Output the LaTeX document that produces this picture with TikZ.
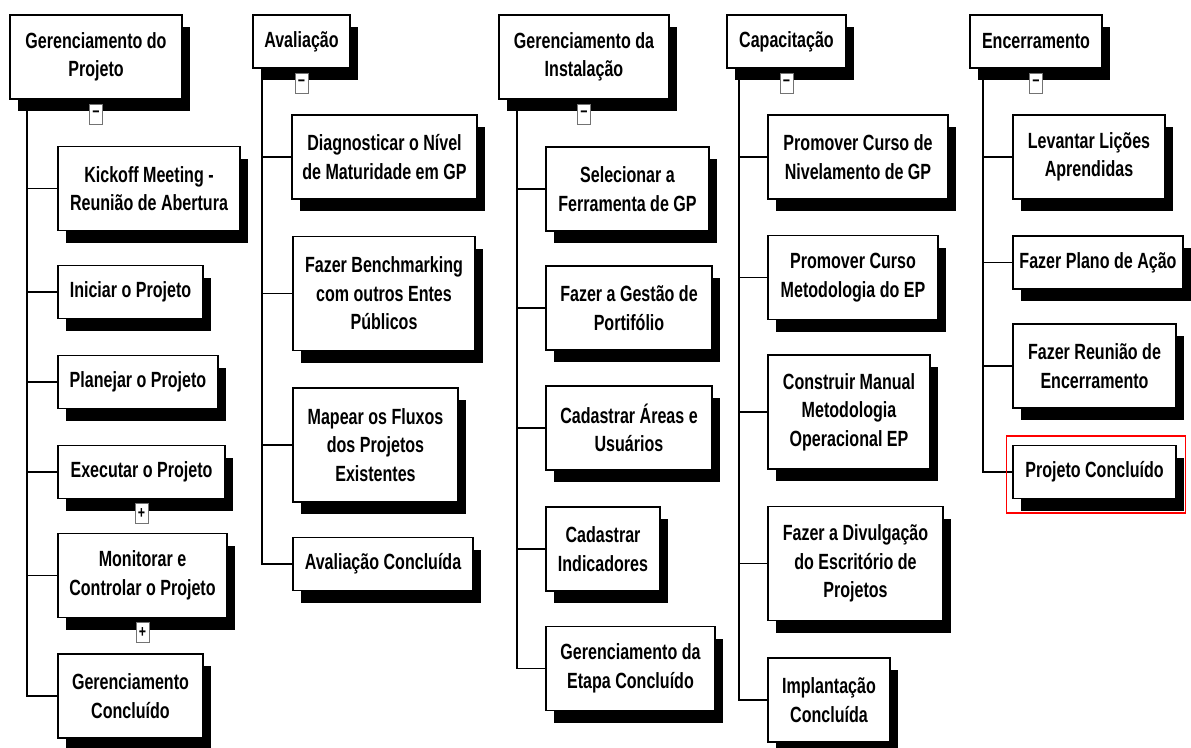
\documentclass[tikz,border=0pt]{standalone}
\usepackage{fontspec}
\newfontfamily\boxfont[FakeStretch=0.73]{Liberation Sans}
\usetikzlibrary{positioning,shadows,calc,backgrounds}

\begin{document}
\begin{tikzpicture}[x=1pt, y=-1pt,
    wbs/.style={draw=black, line width=1.3pt, fill=white, inner sep=0pt, align=center,
        font=\boxfont\bfseries\fontsize{22}{28.5}\selectfont,
        drop shadow={shadow xshift=7.5pt, shadow yshift=-12pt, opacity=1, fill=black}},
    one/.style={wbs, minimum height=53pt},
    two/.style={wbs, minimum height=84pt},
    three/.style={wbs, minimum height=114pt},
    btn/.style={draw=black!55, fill=white, line width=0.9pt, minimum width=13pt,
        minimum height=20pt, inner sep=0pt, font=\boxfont\bfseries\fontsize{17}{17}\selectfont,
        below=4pt of #1},
    link/.style={line width=1.6pt, black}]
    \useasboundingbox (0,0) rectangle (1191,747);
    %%%%%%%%%%%%%%% Gerenciamento do Projeto
    \node[two, minimum width=172pt] (gp) at (96,57) {Gerenciamento do\\Projeto};
    \node[two, minimum width=182pt] (kick) at (149,188.5) {Kickoff Meeting -\\Reunião de Abertura};
    \node[one, minimum width=145pt] (ini) at (130.5,292) {Iniciar o Projeto};
    \node[one, minimum width=160pt] (plan) at (138,382) {Planejar o Projeto};
    \node[one, minimum width=167pt] (exec) at (141.5,472) {Executar o Projeto};
    \node[two, minimum width=169pt] (mon) at (142.5,575.5) {Monitorar e\\Controlar o Projeto};
    \node[two, minimum width=145pt] (gcon) at (130.5,696) {Gerenciamento\\Concluído};
    \node[btn=gp] (gp-b) {−};
    \node[btn=exec] (exec-b) {+};
    \node[btn=mon] (mon-b) {+};
    %%%%%%%%%%%%%%% Avaliacao
    \node[one, minimum width=97pt] (av) at (301.5,41.5) {Avaliação};
    \node[two, minimum width=185pt] (diag) at (384.5,157) {Diagnosticar o Nível\\de Maturidade em GP};
    \node[three, minimum width=182pt] (bench) at (384,293.5) {Fazer Benchmarking\\com outros Entes\\Públicos};
    \node[three, minimum width=165pt] (mapa) at (375.5,445) {Mapear os Fluxos\\dos Projetos\\Existentes};
    \node[one, minimum width=180pt] (avc) at (383,564) {Avaliação Concluída};
    \node[btn=av] (av-b) {−};
    %%%%%%%%%%%%%%% Gerenciamento da Instalacao
    \node[two, minimum width=170pt] (gi) at (584,57) {Gerenciamento da\\Instalação};
    \node[two, minimum width=163pt] (sel) at (627.5,189) {Selecionar a\\Ferramenta de GP};
    \node[two, minimum width=166pt] (gest) at (629,308) {Fazer a Gestão de\\Portifólio};
    \node[two, minimum width=166pt] (cad) at (629,428) {Cadastrar Áreas e\\Usuários};
    \node[two, minimum width=114pt] (ind) at (603,549) {Cadastrar\\Indicadores};
    \node[two, minimum width=169pt] (etapa) at (630.5,668.5) {Gerenciamento da\\Etapa Concluído};
    \node[btn=gi] (gi-b) {−};
    %%%%%%%%%%%%%%% Capacitacao
    \node[one, minimum width=119pt] (cap) at (786.5,41.5) {Capacitação};
    \node[two, minimum width=180pt] (niv) at (858,157) {Promover Curso de\\Nivelamento de GP};
    \node[two, minimum width=170pt] (met) at (853,277.5) {Promover Curso\\Metodologia do EP};
    \node[three, minimum width=162pt] (man) at (849,412) {Construir Manual\\Metodologia\\Operacional EP};
    \node[three, minimum width=175pt] (div) at (855.5,563.5) {Fazer a Divulgação\\do Escritório de\\Projetos};
    \node[two, minimum width=122pt] (imp) at (829,700) {Implantação\\Concluída};
    \node[btn=cap] (cap-b) {−};
    %%%%%%%%%%%%%%% Encerramento
    \node[one, minimum width=132pt] (enc) at (1036,41.5) {Encerramento};
    \node[two, minimum width=152pt] (lev) at (1089,157) {Levantar Lições\\Aprendidas};
    \node[one, minimum width=170pt] (plano) at (1098,262.5) {Fazer Plano de Ação};
    \node[two, minimum width=163pt] (reun) at (1094.5,366) {Fazer Reunião de\\Encerramento};
    \node[one, minimum width=163pt] (pc) at (1094.5,472) {Projeto Concluído};
    \node[btn=enc] (enc-b) {−};
    % selected item
    \draw[red, line width=1.6pt] ($(pc.north west)+(-6,-9)$) rectangle ($(pc.south east)+(9,14)$);
    %%%%%%%%%%%%%%% Trunks
    \begin{scope}[on background layer]
        \coordinate (gp-t) at (27,99);
        \coordinate (av-t) at (262,68);
        \coordinate (gi-t) at (517,99);
        \coordinate (cap-t) at (739,68);
        \coordinate (enc-t) at (983,68);
        \foreach \c in {kick,ini,plan,exec,mon,gcon} {
            \draw[link] (gp-t) |- (\c.west);
        }
        \foreach \c in {diag,bench,mapa,avc} {
            \draw[link] (av-t) |- (\c.west);
        }
        \foreach \c in {sel,gest,cad,ind,etapa} {
            \draw[link] (gi-t) |- (\c.west);
        }
        \foreach \c in {niv,met,man,div,imp} {
            \draw[link] (cap-t) |- (\c.west);
        }
        \foreach \c in {lev,plano,reun,pc} {
            \draw[link] (enc-t) |- (\c.west);
        }
    \end{scope}
\end{tikzpicture}
\end{document}
